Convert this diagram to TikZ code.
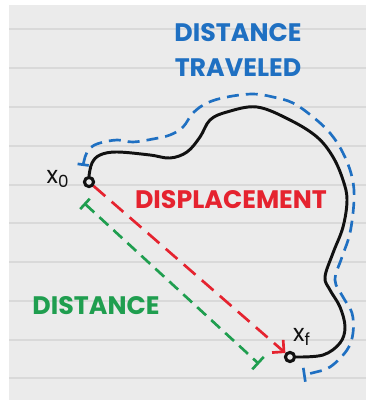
\documentclass[tikz,border=0pt]{standalone}
\usepackage{fontspec}
\setmainfont{Poppins}
\usepackage{tikz}
\usetikzlibrary{arrows.meta}
\definecolor{NoteGray}{HTML}{EBEBEB}
\definecolor{NoteRule}{HTML}{D9D9D9}
\definecolor{TravelBlue}{HTML}{1F70C2}
\definecolor{DispRed}{HTML}{E5232F}
\definecolor{DistGreen}{HTML}{1F9E4F}
\definecolor{PenInk}{HTML}{111111}

\begin{document}
\begin{tikzpicture}[x=0.025cm, y=-0.025cm,
  every node/.style={align=center, inner sep=0pt},
  hand/.style={font=\fontsize{18}{25}\selectfont\bfseries},
  endpt/.style={circle, draw=PenInk, line width=2.2pt, minimum size=6.5pt, fill=NoteGray},
  pen/.style={draw=PenInk, line width=2.1pt, line cap=round},
  marker/.style={line width=1.9pt, dash pattern=on 8.5pt off 5pt}]
  \useasboundingbox (0,0) rectangle (366,400);
  \fill[white] (0,0) rectangle (366,400);
  \fill[NoteGray] (9,5) rectangle (366,400);
  \foreach \y in {29,68,107,146,185,223,262,301,340,378}
    \draw[draw=NoteRule, line width=1.2pt] (9,\y) -- (366,\y);

  \node[hand, text=TravelBlue] (travel) at (238,50) {DISTANCE\\TRAVELED};
  \node[hand, text=DispRed]    (disp)   at (231,200) {DISPLACEMENT};
  \node[hand, text=DistGreen]  (dist)   at (96,306)  {DISTANCE};

  \node[endpt] (x0) at (89,182) {};
  \node[endpt] (xf) at (290,357) {};
  \node[font=\fontsize{17}{18}\selectfont, text=PenInk] (x0lbl) at (58,179) {x\textsubscript{0}};
  \node[font=\fontsize{17}{18}\selectfont, text=PenInk] (xflbl) at (302,337) {x\textsubscript{f}};

  \coordinate (bstart) at (83,166);
  \coordinate (bend)   at (303,375);
  \coordinate (gstart) at (84,203);
  \coordinate (gend)   at (259,364);

  \draw[pen] plot[smooth, tension=0.6] coordinates {(x0.north) (92,163) (100,155) (117,152)
    (150,155) (170,158) (187,152) (200,137) (210,120) (227,112) (257,107) (290,120)
    (317,137) (333,157) (343,180) (347,200) (343,227) (333,253) (325,277) (330,290)
    (340,307) (345,327) (340,343) (323,355) (xf.east)};

  \draw[marker, draw=TravelBlue, {Bar[width=8pt]}-{Bar[width=10pt]}]
    plot[smooth, tension=0.6] coordinates {(bstart) (85,157) (90,148) (100,143) (117,140)
    (133,142) (153,139) (170,135) (183,127) (193,113) (207,103) (227,97) (253,94)
    (273,97) (293,103) (313,117) (330,133) (343,153) (352,177) (354,200) (350,233)
    (342,257) (335,280) (343,297) (352,313) (353,333) (347,350) (330,367) (312,373) (bend)};

  \draw[marker, draw=DispRed, dash pattern=on 11pt off 6pt,
    -{Straight Barb[length=6pt, width=12pt]}] (x0) -- (xf);
  \draw[marker, draw=DistGreen, {Bar[width=10pt]}-{Bar[width=12pt]}] (gstart) -- (gend);
\end{tikzpicture}
\end{document}
